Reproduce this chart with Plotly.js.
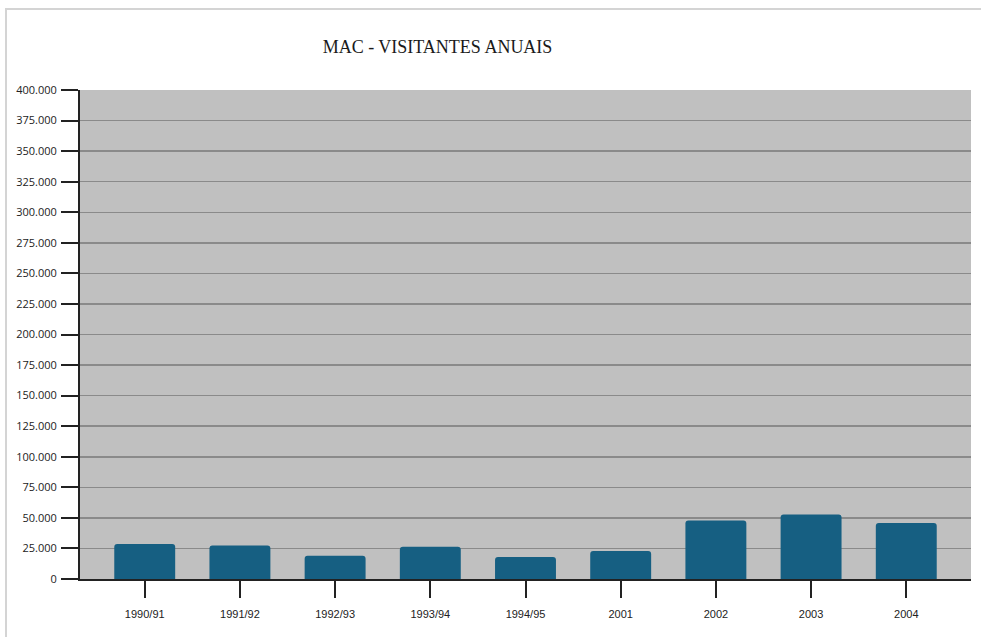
<!DOCTYPE html>
<html>
<head>
<meta charset="utf-8">
<script src="https://cdn.plot.ly/plotly-3.0.1.min.js"></script>
<style>
  html, body { margin: 0; padding: 0; background: #ffffff; }
  #frame { position: absolute; left: 5px; top: 8px; width: 976px; height: 629px;
           border-top: 2px solid #d4d4d4; border-left: 2px solid #d4d4d4; box-sizing: border-box; }
  #chart { position: absolute; left: 0; top: 0; width: 981px; height: 637px; }
</style>
</head>
<body>
<div id="frame"></div>
<div id="chart"></div>
<script>
const categories = ["1990/91", "1991/92", "1992/93", "1993/94", "1994/95", "2001", "2002", "2003", "2004"];
const visitantes = [28600, 27500, 19000, 26400, 18000, 22900, 47900, 52800, 45800];
const yTickValues = [0, 25000, 50000, 75000, 100000, 125000, 150000, 175000, 200000, 225000, 250000, 275000, 300000, 325000, 350000, 375000, 400000];

const trace = {
  type: "bar",
  x: categories,
  y: visitantes,
  width: 0.64,
  marker: { color: "#165f82", cornerradius: 3, line: { width: 0 } },
  hoverinfo: "x+y"
};

const layout = {
  width: 981,
  height: 637,
  margin: { l: 80, r: 10, t: 90, b: 58 },
  paper_bgcolor: "rgba(0,0,0,0)",
  plot_bgcolor: "#c0c0c0",
  separators: ",.",
  showlegend: false,
  title: {
    text: "MAC - VISITANTES ANUAIS",
    font: { family: "Liberation Serif, Times New Roman, serif", size: 18, color: "#1a1a1a" },
    x: 0.446, xanchor: "center",
    y: 0.927, yanchor: "middle"
  },
  xaxis: {
    type: "category",
    range: [-0.68, 8.68],
    showgrid: false,
    showline: true, linecolor: "#222222", linewidth: 2,
    ticks: "outside", ticklen: 17, tickwidth: 2, tickcolor: "#222222",
    tickfont: { family: "Liberation Sans, Arial, sans-serif", size: 11, color: "#222222" },
    ticklabelstandoff: 7,
    fixedrange: true
  },
  yaxis: {
    range: [0, 400000],
    tickvals: yTickValues,
    tickformat: ",d",
    showgrid: true, gridcolor: "#8a8a8a", gridwidth: 1.5,
    zeroline: false,
    showline: true, linecolor: "#222222", linewidth: 2,
    ticks: "outside", ticklen: 17, tickwidth: 2, tickcolor: "#222222",
    tickfont: { family: "Open Sans, sans-serif", size: 11, color: "#222222" },
    ticklabelstandoff: 2,
    fixedrange: true
  }
};

Plotly.newPlot("chart", [trace], layout, { displayModeBar: false, staticPlot: true });
</script>
</body>
</html>
